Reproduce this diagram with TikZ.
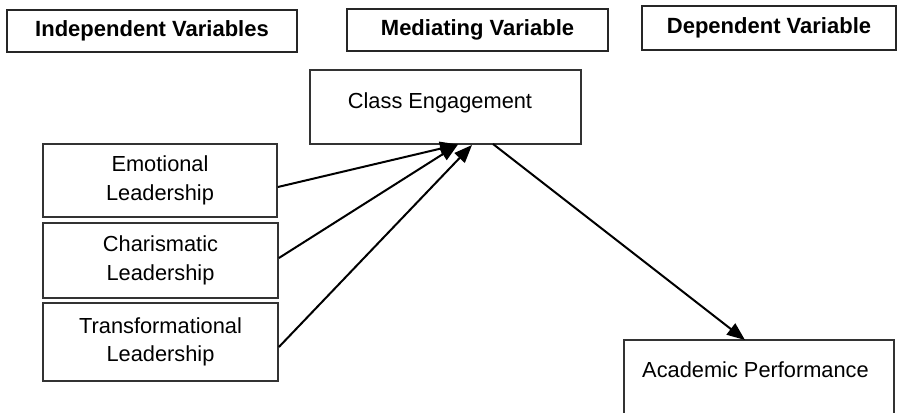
\documentclass[tikz,border=0pt]{standalone}
\usepackage{fontspec}
\setmainfont{Liberation Sans}
\usetikzlibrary{arrows.meta,calc}
\begin{document}
\begin{tikzpicture}[x=0.5pt,y=-0.5pt,
  headbox/.style={draw=black!85,line width=1.3pt,inner sep=0pt,font=\fontsize{11}{13}\selectfont\bfseries},
  varbox/.style={draw=black!80,line width=0.9pt,inner sep=0pt,align=center,font=\fontsize{10.9}{14.25}\selectfont},
  lbl/.style={inner sep=0pt,font=\fontsize{10.9}{14.25}\selectfont},
  arr/.style={line width=1pt,-{Triangle[length=9pt,width=7pt]}}]
\useasboundingbox (0,0) rectangle (897,412);
\clip (0,0) rectangle (897,412);
\fill[white] (0,0) rectangle (897,412);
% header boxes
\node[headbox,minimum width=145pt,minimum height=21pt] (ind) at (152,31) {Independent Variables};
\node[headbox,minimum width=130.5pt,minimum height=21pt] (med) at (477.5,30) {Mediating Variable};
\node[headbox,minimum width=127pt,minimum height=22pt] (dep) at (769,28) {Dependent Variable};
% class engagement
\node[varbox,minimum width=135.5pt,minimum height=37pt] (ce) at (445.5,107) {};
\node[lbl,anchor=base] (cet) at (440,108) {Class Engagement};
% independent variables
\node[varbox,minimum width=117pt,minimum height=36.5pt] (emo) at (160,180.5) {\raisebox{-1.5pt}{\parbox{110pt}{\centering Emotional\\Leadership}}};
\node[varbox,minimum width=117.5pt,minimum height=37.5pt] (cha) at (160.5,260.5) {\raisebox{-1pt}{\parbox{110pt}{\centering Charismatic\\Leadership}}};
\node[varbox,minimum width=117.5pt,minimum height=39pt] (tra) at (160.5,342) {\raisebox{-0.5pt}{\parbox{110pt}{\centering Transformational\\Leadership}}};
% academic performance
\node[varbox,minimum width=135pt,minimum height=52pt] (ap) at (759,392) {};
\node[lbl,anchor=base] (apt) at (755.5,377) {Academic Performance};
% arrow endpoints
\coordinate (tA) at (458,144.5);
\coordinate (tB) at (472,145);
\coordinate (tC) at (493,144);
\coordinate (tD) at (745,340);
\draw[arr] ($(emo.east)+(0,6.5)$) -- (tA);
\draw[arr] ($(cha.east)+(0,-2.5)$) -- (tA);
\draw[arr] ($(tra.east)+(0,5)$) -- (tB);
\draw[arr] (tC) -- (tD);
\end{tikzpicture}
\end{document}
